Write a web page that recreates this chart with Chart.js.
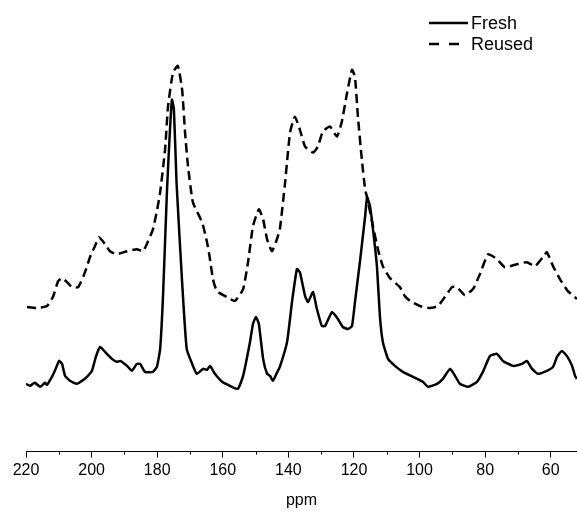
<!DOCTYPE html>
<html>
<head>
<meta charset="utf-8">
<script src="https://cdn.jsdelivr.net/npm/chart.js@4"></script>
<style>
  body { margin: 0; background: #fff; }
  #wrap { width: 577px; height: 514px; }
</style>
</head>
<body>
<div id="wrap"><canvas id="mycanvas" width="577" height="514"></canvas></div>
<script>
// chemical shift (ppm) and intensity (a.u.)
var freshPpm = [220, 218.8, 217.3, 215.7, 214.2, 213.6, 212.1, 211.2, 209.9, 209.0, 208.1, 206.6, 204.5, 202.9, 201.4, 199.9, 198.7, 197.4, 195.9, 193.8, 192.3, 191.3, 189.2, 187.7, 186.2, 185.2, 183.7, 181.3, 180.1, 179.1, 178.2, 177.0, 176.1, 175.5, 174.9, 174.1, 172.4, 171.0, 169.1, 167.9, 166.0, 164.8, 163.9, 162.4, 160.2, 157.8, 155.4, 153.8, 151.7, 150.8, 149.9, 149.0, 147.7, 146.5, 145.6, 144.7, 143.5, 142.6, 140.4, 138.9, 137.4, 136.5, 134.9, 134.0, 132.5, 131.3, 129.8, 128.8, 126.7, 124.9, 123.4, 121.8, 120.6, 119.7, 118.2, 116.6, 116.0, 115.1, 114.2, 113.0, 112.1, 111.2, 109.6, 107.5, 105.1, 102.0, 99.0, 97.4, 94.7, 92.9, 90.7, 89.2, 87.7, 85.2, 82.5, 80.7, 78.5, 76.4, 74.6, 71.5, 68.8, 67.3, 65.7, 63.9, 61.2, 59.3, 58.1, 56.6, 55.1, 53.5, 52.6, 52.0];
var freshVals = [68, 66, 69, 65, 69, 67, 75, 81, 91, 88, 76, 71, 68, 71, 75, 81, 95, 105, 100, 93, 90, 91, 86, 81, 88, 88, 80, 80, 85, 103, 158, 263, 323, 353, 343, 270, 170, 103, 86, 78, 83, 82, 86, 78, 70, 66, 63, 76, 110, 128, 135, 128, 93, 78, 76, 71, 79, 85, 110, 150, 183, 180, 156, 150, 160, 143, 126, 126, 140, 133, 125, 123, 126, 150, 190, 236, 255, 246, 223, 186, 136, 110, 93, 86, 80, 75, 70, 65, 68, 73, 83, 76, 68, 65, 70, 80, 96, 98, 91, 86, 88, 91, 83, 78, 81, 85, 95, 101, 96, 86, 76, 73];

var reusedPpm = [219.7, 216.6, 213.6, 211.8, 210.2, 209.0, 207.5, 206.0, 204.1, 202.0, 200.5, 199.0, 197.7, 195.9, 194.4, 192.3, 189.2, 186.2, 184.3, 182.8, 181.3, 180.1, 179.1, 177.6, 176.7, 175.2, 173.7, 172.4, 171.5, 170.6, 169.1, 166.3, 164.8, 163.9, 163.0, 161.8, 158.7, 156.3, 153.8, 152.3, 150.8, 149.0, 147.7, 146.5, 145.0, 143.5, 142.6, 141.0, 139.5, 138.0, 136.5, 134.9, 132.5, 131.0, 129.5, 127.3, 125.2, 123.7, 122.1, 120.6, 119.7, 118.8, 117.6, 116.6, 116.0, 114.2, 112.7, 111.2, 109.0, 106.0, 104.5, 102.9, 99.9, 96.8, 94.4, 92.3, 90.1, 88.6, 86.2, 83.7, 81.6, 79.1, 76.4, 74.0, 70.3, 67.3, 64.8, 62.4, 61.2, 59.3, 57.2, 54.8, 52.6, 52.0];
var reusedVals = [145, 144, 146, 155, 171, 174, 170, 165, 165, 180, 195, 206, 215, 208, 201, 198, 201, 203, 201, 211, 223, 241, 260, 303, 346, 380, 387, 363, 320, 286, 250, 230, 210, 193, 173, 161, 155, 151, 163, 190, 226, 243, 233, 213, 201, 213, 223, 270, 320, 336, 323, 306, 300, 306, 321, 326, 316, 331, 360, 383, 376, 336, 293, 263, 255, 226, 203, 186, 174, 165, 156, 151, 146, 144, 146, 155, 165, 165, 157, 163, 178, 198, 193, 185, 188, 190, 186, 195, 200, 186, 173, 161, 155, 153];

var majorTicks = [220, 200, 180, 160, 140, 120, 100, 80, 60];
var minorTicks = [210, 190, 170, 150, 130, 110, 90, 70];
var seriesNames = ['Fresh', 'Reused'];

function toPoints(xs, ys) {
  var pts = [];
  for (var i in xs) pts.push({x: xs[i], y: ys[i]});
  return pts;
}

var FONT = '"Liberation Sans", Arial, sans-serif';

// short minor ticks + legend drawn on the canvas
var extras = {
  id: 'extras',
  afterDraw: function(chart) {
    var ctx = chart.ctx;
    var xs = chart.scales.x;
    var bottom = chart.chartArea.bottom;
    ctx.save();
    ctx.strokeStyle = '#000';
    ctx.lineWidth = 1;
    minorTicks.forEach(function(v) {
      var px = Math.round(xs.getPixelForValue(v)) + 0.5;
      ctx.beginPath();
      ctx.moveTo(px, bottom);
      ctx.lineTo(px, bottom + 3);
      ctx.stroke();
    });
    // legend
    ctx.lineWidth = 2.5;
    ctx.beginPath();
    ctx.moveTo(429, 23);
    ctx.lineTo(468, 23);
    ctx.stroke();
    ctx.setLineDash([10, 10]);
    ctx.beginPath();
    ctx.moveTo(429, 44);
    ctx.lineTo(469, 44);
    ctx.stroke();
    ctx.setLineDash([]);
    ctx.fillStyle = '#000';
    ctx.font = '18px ' + FONT;
    ctx.textBaseline = 'middle';
    ctx.fillText(seriesNames[0], 471, 24);
    ctx.fillText(seriesNames[1], 471, 45);
    ctx.restore();
  }
};

var ctx = document.getElementById('mycanvas');

var chart = new Chart(ctx, {
  type: 'line',
  data: {
    datasets: [
      {
        label: seriesNames[0],
        data: toPoints(freshPpm, freshVals),
        borderColor: '#000',
        borderWidth: 2.5,
        pointRadius: 0,
        tension: 0.15
      },
      {
        label: seriesNames[1],
        data: toPoints(reusedPpm, reusedVals),
        borderColor: '#000',
        borderWidth: 2.5,
        borderDash: [9, 5],
        pointRadius: 0,
        tension: 0.15
      }
    ]
  },
  options: {
    responsive: false,
    animation: false,
    layout: { padding: { left: 26, right: 0, top: 0, bottom: 4 } },
    plugins: {
      legend: { display: false },
      tooltip: { enabled: false }
    },
    scales: {
      x: {
        type: 'linear',
        reverse: true,
        min: 52,
        max: 220,
        afterBuildTicks: function(axis) {
          axis.ticks = majorTicks.map(function(v) { return {value: v}; });
        },
        grid: {
          drawOnChartArea: false,
          drawTicks: true,
          tickLength: 6,
          color: '#000'
        },
        border: { display: true, color: '#000', width: 1 },
        ticks: {
          color: '#000',
          padding: 3,
          maxRotation: 0,
          autoSkip: false,
          font: { family: FONT, size: 16 }
        },
        title: {
          display: true,
          text: 'ppm',
          color: '#000',
          font: { family: FONT, size: 16 },
          padding: { top: 8, bottom: 0 }
        }
      },
      y: {
        display: false,
        min: 0,
        max: 453
      }
    }
  },
  plugins: [extras]
});
</script>
</body>
</html>
